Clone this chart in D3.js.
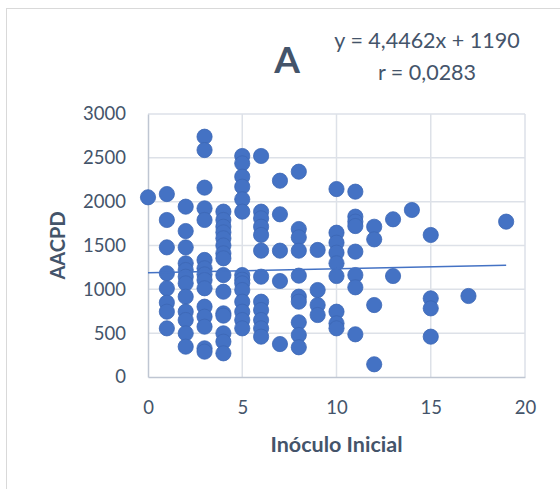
<!DOCTYPE html>
<html>
<head>
<meta charset="utf-8">
<script src="https://cdn.jsdelivr.net/npm/d3@7/dist/d3.min.js"></script>
<style>
  html, body { margin: 0; padding: 0; background: #fff; }
  svg { display: block; }
  text { font-family: Lato, "Open Sans", sans-serif; fill: #44546a; }
</style>
</head>
<body>
<svg id="chart" width="560" height="489"></svg>
<script>
// Inóculo inicial (x) and AACPD (y) for each observation
const inoculo = [
  0,
  1, 1, 1, 1, 1, 1, 1, 1,
  2, 2, 2, 2, 2, 2, 2, 2, 2, 2, 2, 2,
  3, 3, 3, 3, 3, 3, 3, 3, 3, 3, 3, 3, 3, 3, 3,
  4, 4, 4, 4, 4, 4, 4, 4, 4, 4, 4, 4, 4, 4, 4,
  5, 5, 5, 5, 5, 5, 5, 5, 5, 5, 5, 5, 5, 5,
  6, 6, 6, 6, 6, 6, 6, 6, 6, 6, 6, 6,
  7, 7, 7, 7, 7,
  8, 8, 8, 8, 8, 8, 8, 8, 8, 8,
  9, 9, 9, 9,
  10, 10, 10, 10, 10, 10, 10, 10, 10,
  11, 11, 11, 11, 11, 11, 11, 11,
  12, 12, 12, 12,
  13, 13,
  14,
  15, 15, 15, 15,
  17,
  19
];
const aacpd = [
  2050,
  2087, 1791, 1479, 1183, 1012, 848, 745, 555,
  1943, 1665, 1479, 1297, 1220, 1144, 1068, 916, 745, 650, 498, 346,
  2741, 2589, 2160, 1924, 1791, 1335, 1240, 1170, 1106, 1012, 802, 688, 574, 327, 289,
  1886, 1791, 1714, 1650, 1582, 1500, 1411, 1354, 1163, 973, 726, 700, 498, 403, 270,
  2521, 2437, 2285, 2171, 2027, 1886, 1163, 1110, 1068, 992, 859, 745, 650, 555,
  2521, 1886, 1810, 1714, 1620, 1441, 1144, 859, 764, 650, 555, 460,
  2239, 1856, 1441, 1095, 376,
  2342, 1688, 1593, 1441, 1156, 916, 859, 624, 479, 339,
  1449, 992, 821, 707,
  2144, 1646, 1532, 1418, 1297, 1152, 745, 612, 555,
  2114, 1829, 1772, 1722, 1430, 1163, 1023, 487,
  1714, 1570, 821, 145,
  1799, 1152,
  1905,
  1620, 897, 783, 460,
  924,
  1772
];
const xTicks = [0, 5, 10, 15, 20];
const yTicks = [0, 500, 1000, 1500, 2000, 2500, 3000];
// Linear trend: y = 4.4462x + 1190
const trendSlope = 4.4462;
const trendIntercept = 1190;
const trendRange = [0, 19];

const points = inoculo.map((x, i) => ({ x, y: aacpd[i] }));

const svg = d3.select("#chart");

// Chart frame (only the top and left edges fall inside the view)
svg.append("rect")
  .attr("x", 6.5).attr("y", 8.5)
  .attr("width", 700).attr("height", 700)
  .attr("fill", "none").attr("stroke", "#d9d9d9").attr("stroke-width", 1);

const x = d3.scaleLinear().domain([0, 20]).range([148, 525]);
const y = d3.scaleLinear().domain([0, 3000]).range([377, 114]);

// Gridlines
const grid = svg.append("g").attr("stroke", "#dde1e8").attr("stroke-width", 1.5);
grid.selectAll("line.h").data(yTicks.filter(d => d > 0)).join("line")
  .attr("x1", x(0)).attr("x2", x(20))
  .attr("y1", d => y(d)).attr("y2", d => y(d));
grid.selectAll("line.v").data(xTicks.filter(d => d > 0)).join("line")
  .attr("x1", d => x(d)).attr("x2", d => x(d))
  .attr("y1", y(0)).attr("y2", y(3000));

// Axes
const xAxis = d3.axisBottom(x).tickValues(xTicks).tickFormat(d3.format("d")).tickSize(0);
const yAxis = d3.axisLeft(y).tickValues(yTicks).tickFormat(d3.format("d")).tickSize(0).tickPadding(22);

const gx = svg.append("g").attr("transform", `translate(0,${y(0)})`).call(xAxis);
const gy = svg.append("g").attr("transform", `translate(${x(0)},0)`).call(yAxis);
[gx, gy].forEach(g => {
  g.select(".domain").attr("stroke", "#bfc6d2").attr("stroke-width", 1.5);
  g.selectAll(".tick text")
    .style("font-family", "Lato, 'Open Sans', sans-serif")
    .style("font-size", "18.5px")
    .attr("fill", "#44546a");
});
gx.selectAll(".tick text").attr("dy", "0.35em").attr("y", 31);

// Points
svg.append("g").selectAll("circle").data(points).join("circle")
  .attr("cx", d => x(d.x))
  .attr("cy", d => y(d.y))
  .attr("r", 7.6)
  .attr("fill", "#4472c4")
  .attr("stroke", "#3c67b5")
  .attr("stroke-width", 0.8);

// Trend line
svg.append("line")
  .attr("x1", x(trendRange[0])).attr("y1", y(trendSlope * trendRange[0] + trendIntercept))
  .attr("x2", x(trendRange[1])).attr("y2", y(trendSlope * trendRange[1] + trendIntercept))
  .attr("stroke", "#4472c4").attr("stroke-width", 1.6);

// Titles
svg.append("text")
  .attr("x", 287).attr("y", 73)
  .attr("text-anchor", "middle")
  .style("font-size", "37px").style("font-weight", "bold")
  .text("A");

svg.append("text")
  .attr("x", 427).attr("y", 48)
  .attr("text-anchor", "middle")
  .style("font-size", "21.5px")
  .text("y = 4,4462x + 1190");

svg.append("text")
  .attr("x", 427).attr("y", 80)
  .attr("text-anchor", "middle")
  .style("font-size", "21.5px")
  .text("r = 0,0283");

svg.append("text")
  .attr("x", 336.5).attr("y", 452)
  .attr("text-anchor", "middle")
  .style("font-size", "21.5px").style("font-weight", "bold")
  .text("Inóculo Inicial");

svg.append("text")
  .attr("transform", `translate(65,${y(1500)}) rotate(-90)`)
  .attr("text-anchor", "middle")
  .style("font-size", "20px").style("font-weight", "bold")
  .text("AACPD");
</script>
</body>
</html>
